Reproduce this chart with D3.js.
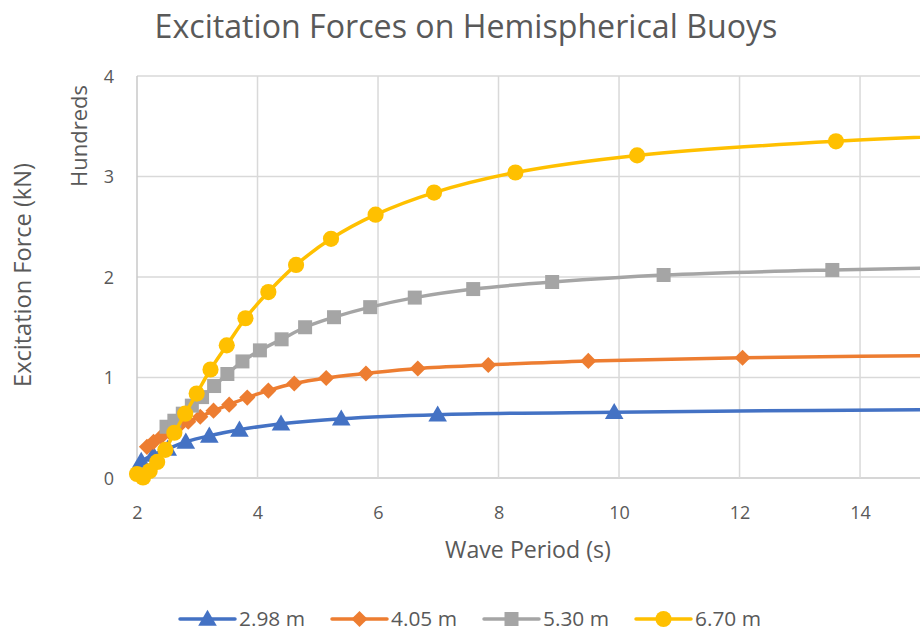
<!DOCTYPE html>
<html><head><meta charset="utf-8">
<script src="https://cdn.jsdelivr.net/npm/d3@7"></script>
<style>html,body{margin:0;padding:0;background:#fff;}svg{display:block;font-family:"Open Sans",sans-serif;}</style>
</head><body>
<script>
// ---- data (Wave period in s, excitation force in kN) ----
const seriesNames = ["2.98 m", "4.05 m", "5.30 m", "6.70 m"];
const seriesColors = ["#4472C4", "#ED7D31", "#A5A5A5", "#FFC000"];
const seriesMarkers = ["triangle", "diamond", "square", "circle"];

const periods298 = [2.07, 2.27, 2.51, 2.81, 3.20, 3.70, 4.39, 5.39, 6.99, 9.92, 17.2];
const force298   = [17, 23, 29, 36, 42, 48, 54, 59, 63, 65.5, 69];

const periods405 = [2.165, 2.275, 2.40, 2.53, 2.68, 2.85, 3.05, 3.27, 3.53, 3.83, 4.18, 4.61, 5.14, 5.80, 6.66, 7.83, 9.49, 12.05, 16.5];
const force405   = [31, 36, 41, 46, 51, 56, 61, 67, 73, 80, 87, 94, 99.5, 104, 109, 112.5, 116.5, 119.7, 122.5];

const periods530 = [2.49, 2.62, 2.76, 2.91, 3.08, 3.28, 3.50, 3.75, 4.04, 4.40, 4.79, 5.27, 5.87, 6.61, 7.58, 8.89, 10.74, 13.54, 18.3];
const force530   = [51, 57, 64, 72, 80.5, 91.5, 103.5, 116, 127, 138, 150, 160, 170, 179.5, 188, 195, 202, 207, 212];

const periods670 = [2.00, 2.10, 2.21, 2.335, 2.47, 2.62, 2.80, 2.99, 3.22, 3.49, 3.80, 4.18, 4.64, 5.22, 5.96, 6.93, 8.28, 10.30, 13.60, 20.0];
const force670   = [4, 0.5, 7, 16, 28, 45, 64, 84, 108, 132, 159, 185, 212, 238, 262, 284, 304, 321, 335, 350];

const xTicks = [2, 4, 6, 8, 10, 12, 14];
const yTicks = [0, 100, 200, 300, 400];
const chartTitle = "Excitation Forces on Hemispherical Buoys";
const xTitle = "Wave Period (s)";
const yTitle = "Excitation Force (kN)";
const unitLabel = "Hundreds";

const allPeriods = [periods298, periods405, periods530, periods670];
const allForces = [force298, force405, force530, force670];

// ---- layout ----
const W = 920, H = 632;
const plot = {left: 137, right: 920.3, top: 76, bottom: 478};
const textColor = "#595959";

const svg = d3.select("body").append("svg").attr("width", W).attr("height", H);
svg.append("rect").attr("width", W).attr("height", H).attr("fill", "#fff");

const x = d3.scaleLinear().domain([2, 15]).range([plot.left, plot.right]);
const y = d3.scaleLinear().domain([0, 400]).range([plot.bottom, plot.top]);

function fitText(sel, target) {
  const w = sel.node().getComputedTextLength();
  const fs = parseFloat(sel.attr("font-size"));
  sel.attr("font-size", fs * target / w);
}

// gridlines
const grid = svg.append("g");
grid.selectAll("line.h").data(yTicks).join("line")
  .attr("x1", plot.left).attr("x2", W)
  .attr("y1", d => y(d)).attr("y2", d => y(d))
  .attr("stroke", d => d === 0 ? "#c8c8c8" : "#d9d9d9").attr("stroke-width", 1.5);
grid.selectAll("line.v").data(xTicks).join("line")
  .attr("y1", plot.top).attr("y2", plot.bottom)
  .attr("x1", d => x(d)).attr("x2", d => x(d))
  .attr("stroke", d => d === 2 ? "#c8c8c8" : "#d9d9d9").attr("stroke-width", 1.5);

// axes tick labels via d3 axes
const xAxis = svg.append("g").attr("transform", `translate(0,${plot.bottom})`)
  .call(d3.axisBottom(x).tickValues(xTicks).tickSize(0).tickPadding(0).tickFormat(d3.format("d")));
xAxis.select(".domain").remove();
xAxis.selectAll("text").attr("font-size", 18).attr("fill", textColor)
  .attr("font-family", "Open Sans").attr("dy", null).attr("y", 41);

const yAxis = svg.append("g").attr("transform", `translate(${plot.left},0)`)
  .call(d3.axisLeft(y).tickValues(yTicks).tickSize(0).tickPadding(0).tickFormat(d => d / 100));
yAxis.select(".domain").remove();
yAxis.selectAll("text").attr("font-size", 18).attr("fill", textColor)
  .attr("font-family", "Open Sans").attr("x", -23).attr("dy", "0.35em");

// titles
const t = svg.append("text").attr("x", 466).attr("y", 38).attr("text-anchor", "middle")
  .attr("font-size", 28).attr("fill", textColor).text(chartTitle);
fitText(t, 623);

const xt = svg.append("text").attr("x", 528).attr("y", 558).attr("text-anchor", "middle")
  .attr("font-size", 18).attr("fill", textColor).text(xTitle);
fitText(xt, 166);

const yt = svg.append("text").attr("transform", "translate(31,275) rotate(-90)").attr("text-anchor", "middle")
  .attr("font-size", 18).attr("fill", textColor).text(yTitle);
fitText(yt, 224);

const ut = svg.append("text").attr("transform", "translate(87,136) rotate(-90)").attr("text-anchor", "middle")
  .attr("font-size", 18).attr("fill", textColor).text(unitLabel);
fitText(ut, 102);

// markers
function markerPath(type) {
  if (type === "triangle") return d3.symbol(d3.symbolTriangle, 150)();
  if (type === "diamond") return d3.symbol(d3.symbolSquare, 130)();
  if (type === "square") return d3.symbol(d3.symbolSquare, 196)();
  return d3.symbol(d3.symbolCircle, 205)();
}
function markerTransform(type, px, py) {
  if (type === "triangle") return `translate(${px},${py + 1.5})`;
  if (type === "diamond") return `translate(${px},${py}) rotate(45)`;
  return `translate(${px},${py})`;
}

const line = d3.line().curve(d3.curveCatmullRom.alpha(0.5));

seriesNames.forEach((name, i) => {
  const pts = allPeriods[i].map((p, j) => [x(p), y(allForces[i][j])]);
  const g = svg.append("g");
  g.append("path").attr("d", line(pts)).attr("fill", "none")
    .attr("stroke", seriesColors[i]).attr("stroke-width", 3.5)
    .attr("stroke-linejoin", "round").attr("stroke-linecap", "round");
  g.selectAll("path.m").data(pts).join("path").attr("class", "m")
    .attr("d", markerPath(seriesMarkers[i]))
    .attr("transform", d => markerTransform(seriesMarkers[i], d[0], d[1]))
    .attr("fill", seriesColors[i]);
});

// legend
const legend = svg.append("g");
seriesNames.forEach((name, i) => {
  const x0 = 180 + i * 152, ly = 619;
  const g = legend.append("g");
  g.append("line").attr("x1", x0).attr("x2", x0 + 55).attr("y1", ly).attr("y2", ly)
    .attr("stroke", seriesColors[i]).attr("stroke-width", 3.5).attr("stroke-linecap", "round");
  g.append("path").attr("d", markerPath(seriesMarkers[i]))
    .attr("transform", markerTransform(seriesMarkers[i], x0 + 27.5, ly))
    .attr("fill", seriesColors[i]);
  const tx = g.append("text").attr("x", x0 + 59).attr("y", ly).attr("dy", "0.35em")
    .attr("font-size", 18).attr("fill", textColor).text(name);
  fitText(tx, 66);
});
</script>
</body></html>
